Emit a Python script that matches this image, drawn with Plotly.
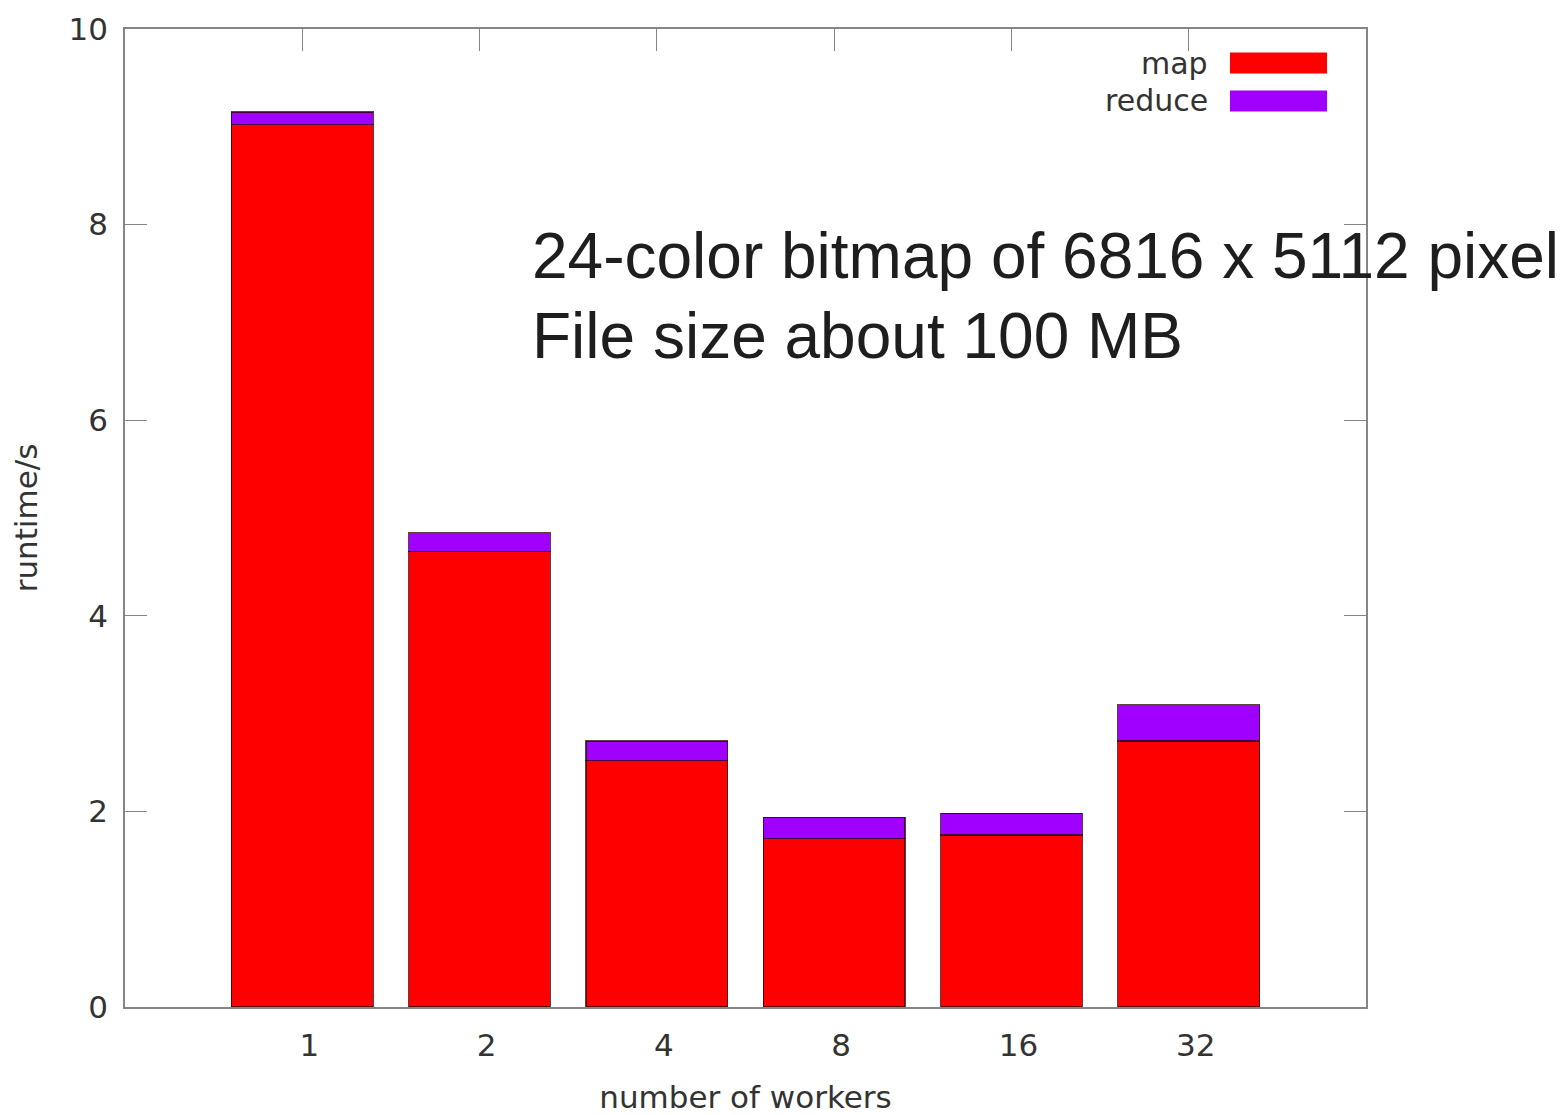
import plotly.graph_objects as go

workers = ["1", "2", "4", "8", "16", "32"]
map_time = [9.02, 4.66, 2.52, 1.72, 1.76, 2.72]
reduce_time = [0.13, 0.19, 0.20, 0.22, 0.22, 0.37]
series_names = ["map", "reduce"]
series_colors = ["#ff0000", "#a000ff"]
y_ticks = [0, 2, 4, 6, 8, 10]
note_lines = ["24-color bitmap of 6816 x 5112 pixel", "File size about 100 MB"]

AX_FONT = "DejaVu Sans"
TXT = "#333333"

fig = go.Figure()
for name, vals, col in zip(series_names, [map_time, reduce_time], series_colors):
    fig.add_trace(go.Bar(
        x=workers, y=vals, name=name, width=0.8,
        marker=dict(color=col, line=dict(color="rgba(40,0,0,0.75)", width=1.3)),
        showlegend=False,
    ))

axis_common = dict(
    showline=True, linecolor="#858585", linewidth=1.6, mirror="ticks",
    ticks="inside", ticklen=22, tickcolor="#858585", tickwidth=1.4,
    showgrid=False, zeroline=False,
    tickfont=dict(family=AX_FONT, size=31, color=TXT),
)

fig.update_layout(
    width=1557, height=1107,
    margin=dict(l=117, r=199, t=21, b=108, autoexpand=False),
    plot_bgcolor="white", paper_bgcolor="white",
    barmode="stack", bargap=0.2,
    font=dict(family=AX_FONT, color=TXT),
    xaxis=dict(**axis_common, type="category", range=[-1, 6], layer="below traces",
               ticklabelstandoff=10, ticklabelshift=7,
               title=dict(text="number of workers", font=dict(family=AX_FONT, size=31, color=TXT),
                          standoff=29)),
    yaxis=dict(**axis_common, range=[0, 10], tickvals=y_ticks, ticklabelstandoff=9,
               title=dict(text="runtime/s", font=dict(family=AX_FONT, size=31, color=TXT),
                          standoff=22)),
)

# legend drawn as text + swatches (top right, inside plot)
leg_y = [0.9652, 0.9264]
for name, col, yy in zip(series_names, series_colors, leg_y):
    fig.add_annotation(xref="paper", yref="paper", x=0.8743, y=yy, text=name,
                       showarrow=False, xanchor="right", yanchor="middle",
                       font=dict(family=AX_FONT, size=30, color=TXT))
    fig.add_shape(type="rect", xref="paper", yref="paper",
                  x0=0.8904, x1=0.9686, y0=yy - 0.0107, y1=yy + 0.0107,
                  fillcolor=col, line=dict(width=0))

note_y = [0.768, 0.686]
for line, yy in zip(note_lines, note_y):
    fig.add_annotation(xref="paper", yref="paper", x=(530 - 125) / 1241, y=yy, text=line,
                       showarrow=False, xanchor="left", yanchor="middle",
                       font=dict(family="Liberation Sans", size=64, color="#1e1e1e"))

fig.write_html("out.html")
